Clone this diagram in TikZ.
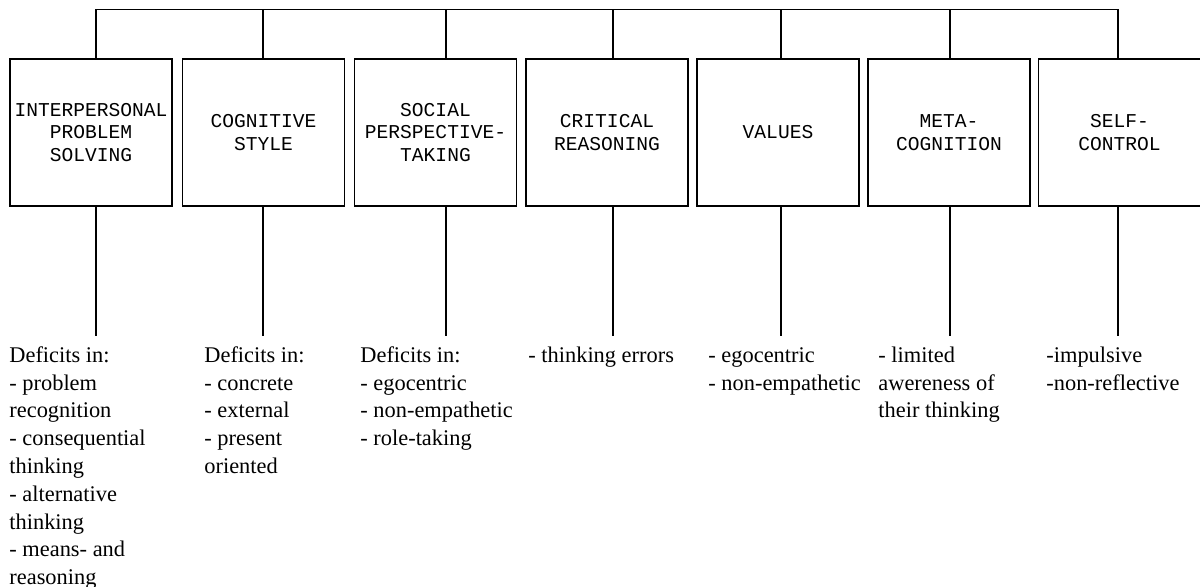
\documentclass[tikz,border=0pt]{standalone}
\usepackage{fontspec}
\setmainfont{Liberation Serif}
\newfontfamily\boxfont{Liberation Mono}
\begin{document}
\begin{tikzpicture}[x=0.5pt,y=-0.5pt,
  catbox/.style={draw=black,line width=0.7pt,rectangle,minimum width=81pt,minimum height=73.5pt,inner sep=0pt,align=center,
    font=\boxfont\fontsize{9.8}{11.3}\selectfont},
  link/.style={draw=black,line width=0.7pt},
  deficit/.style={anchor=north west,inner sep=0pt,align=left,font=\fontsize{11.2}{13.9}\selectfont}]
\useasboundingbox (0,0) rectangle (1200,587);
\begin{scope}
\clip (0,0) rectangle (1200,587);
\node[catbox] (b1) at (91,132.5) {INTERPERSONAL\\PROBLEM\\SOLVING};
\node[catbox] (b2) at (263.5,132.5) {COGNITIVE\\STYLE};
\node[catbox] (b3) at (435.5,132.5) {SOCIAL\\PERSPECTIVE-\\TAKING};
\node[catbox] (b4) at (607,132.5) {CRITICAL\\REASONING};
\node[catbox] (b5) at (778,132.5) {VALUES};
\node[catbox] (b6) at (949,132.5) {META-\\COGNITION};
\node[catbox] (b7) at (1119.5,132.5) {SELF-\\CONTROL};
\end{scope}
% top points
\coordinate (t1) at (96,9.5);
\coordinate (t2) at (263,9.5);
\coordinate (t3) at (446,9.5);
\coordinate (t4) at (613,9.5);
\coordinate (t5) at (781,9.5);
\coordinate (t6) at (950,9.5);
\coordinate (t7) at (1118,9.5);
% bottom points
\coordinate (d1) at (96,336);
\coordinate (d2) at (263,336);
\coordinate (d3) at (446,336);
\coordinate (d4) at (613,336);
\coordinate (d5) at (781,336);
\coordinate (d6) at (950,336);
\coordinate (d7) at (1118,336);
\draw[link] (t1) -- (t7);
\foreach \i in {1,...,7}{
  \draw[link] (t\i) -- (t\i |- b\i.north);
  \draw[link] (d\i |- b\i.south) -- (d\i);
}
% deficit texts
\node[deficit] (x1) at (9,342.5) {\strut Deficits in:\\- problem\\recognition\\- consequential\\thinking\\- alternative\\thinking\\- means- and\\reasoning};
\node[deficit] (x2) at (204,342.5) {\strut Deficits in:\\- concrete\\- external\\- present\\oriented};
\node[deficit] (x3) at (360,342.5) {\strut Deficits in:\\- egocentric\\- non-empathetic\\- role-taking};
\node[deficit] (x4) at (528,342.5) {\strut - thinking errors};
\node[deficit] (x5) at (708,342.5) {\strut - egocentric\\- non-empathetic};
\node[deficit] (x6) at (878,342.5) {\strut - limited\\awereness of\\their thinking};
\node[deficit] (x7) at (1046,342.5) {\strut -impulsive\\-non-reflective};
\end{tikzpicture}
\end{document}
